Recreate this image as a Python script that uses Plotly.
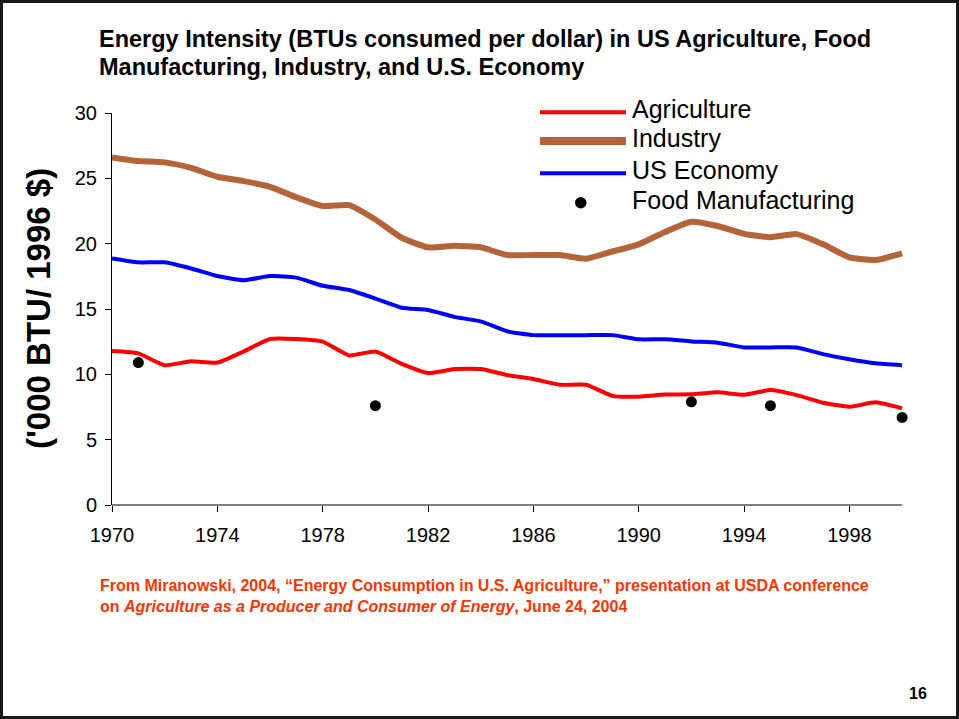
import plotly.graph_objects as go

# ---------------- data ----------------
years = list(range(1970, 2001))
agriculture = [11.78, 11.6, 10.7, 11.0, 10.9, 11.75, 12.7, 12.7, 12.5, 11.45,
               11.75, 10.8, 10.1, 10.4, 10.4, 9.95, 9.64, 9.2, 9.2, 8.35,
               8.29, 8.45, 8.47, 8.62, 8.44, 8.8, 8.41, 7.83, 7.52, 7.86, 7.4]
us_economy = [18.87, 18.57, 18.57, 18.1, 17.52, 17.2, 17.52, 17.4, 16.78, 16.45,
              15.8, 15.1, 14.92, 14.4, 14.05, 13.3, 13.0, 13.0, 13.0, 13.0,
              12.68, 12.68, 12.52, 12.42, 12.06, 12.06, 12.06, 11.55, 11.15, 10.84, 10.7]
industry = [26.6, 26.32, 26.22, 25.8, 25.12, 24.79, 24.35, 23.55, 22.88, 22.95,
            21.85, 20.45, 19.72, 19.84, 19.72, 19.13, 19.13, 19.13, 18.85, 19.4,
            19.95, 20.9, 21.68, 21.35, 20.75, 20.5, 20.73, 19.95, 18.95, 18.75, 19.26]
food_years = [1971, 1980, 1992, 1995, 2000]
food_manufacturing = [10.9, 7.6, 7.9, 7.6, 6.7]

x_ticks = [1970, 1974, 1978, 1982, 1986, 1990, 1994, 1998]
y_ticks = [0, 5, 10, 15, 20, 25, 30]

# ---------------- styling / layout helpers ----------------
W, H = 959, 719
L, R, T, B = 112, 49, 113, 214
PW, PH = W - L - R, H - T - B
FONT = "Arial, Liberation Sans, Helvetica, sans-serif"
RED, BLUE, BROWN = "#FF0000", "#0000FF", "#B5643A"


def px(xp):
    return (xp - L) / PW


def py(yp):
    return (H - B - yp) / PH


fig = go.Figure()
fig.add_trace(go.Scatter(x=years, y=agriculture, mode="lines", name="Agriculture",
                         line=dict(color=RED, width=4, shape="spline", smoothing=0.5)))
fig.add_trace(go.Scatter(x=years, y=industry, mode="lines", name="Industry",
                         line=dict(color=BROWN, width=6, shape="spline", smoothing=0.5)))
fig.add_trace(go.Scatter(x=years, y=us_economy, mode="lines", name="US Economy",
                         line=dict(color=BLUE, width=4, shape="spline", smoothing=0.5)))
fig.add_trace(go.Scatter(x=food_years, y=food_manufacturing, mode="markers",
                         name="Food Manufacturing",
                         marker=dict(color="black", size=11)))

shapes = []
annotations = []

# x axis line (ends at 2000)
shapes.append(dict(type="line", xref="x", yref="paper", x0=1970, x1=2000, y0=0, y1=0,
                   line=dict(color="black", width=1)))

# slide border
shapes.append(dict(type="rect", xref="paper", yref="paper",
                   x0=px(1.5), x1=px(957.5), y0=py(717.5), y1=py(1.5),
                   line=dict(color="#1a1a1a", width=3)))

# custom legend
legend_rows = [
    ("Agriculture", RED, 4, 112.3, 108.6),
    ("Industry", BROWN, 8, 141.0, 138.0),
    ("US Economy", BLUE, 4, 173.3, 170.3),
]
for name, col, wid, ly, ty in legend_rows:
    shapes.append(dict(type="line", xref="paper", yref="paper",
                       x0=px(540), x1=px(626), y0=py(ly), y1=py(ly),
                       line=dict(color=col, width=wid)))
    annotations.append(dict(text=name, xref="paper", yref="paper", x=px(630), y=py(ty),
                            xanchor="left", yanchor="middle", showarrow=False,
                            font=dict(family=FONT, size=25, color="black")))
shapes.append(dict(type="circle", xref="paper", yref="paper",
                   x0=px(575), x1=px(586.5), y0=py(208.5), y1=py(197),
                   fillcolor="black", line=dict(color="black", width=0)))
annotations.append(dict(text="Food Manufacturing", xref="paper", yref="paper",
                        x=px(630), y=py(199.6), xanchor="left", yanchor="middle",
                        showarrow=False, font=dict(family=FONT, size=25, color="black")))

# title
for txt, cy in [("Energy Intensity (BTUs consumed per dollar) in US Agriculture, Food", 38.7),
                ("Manufacturing, Industry, and U.S. Economy", 67.0)]:
    annotations.append(dict(text="<b>%s</b>" % txt, xref="paper", yref="paper",
                            x=px(97), y=py(cy), xanchor="left", yanchor="middle",
                            showarrow=False, font=dict(family=FONT, size=23.5, color="black")))

# y axis title
annotations.append(dict(text="<b>('000 BTU/ 1996 $)</b>", xref="paper", yref="paper",
                        x=px(38), y=py(309), xanchor="center", yanchor="middle",
                        textangle=-90, showarrow=False,
                        font=dict(family=FONT, size=33, color="black")))

# footnote
FOOT = "#FF3300"
annotations.append(dict(text="<b>From Miranowski, 2004, \u201cEnergy Consumption in U.S. Agriculture,\u201d presentation at USDA conference</b>",
                        xref="paper", yref="paper", x=px(98), y=py(585),
                        xanchor="left", yanchor="middle", showarrow=False,
                        font=dict(family=FONT, size=16, color=FOOT)))
annotations.append(dict(text="<b>on <i>Agriculture as a Producer and Consumer of Energy</i>, June 24, 2004</b>",
                        xref="paper", yref="paper", x=px(98), y=py(606.5),
                        xanchor="left", yanchor="middle", showarrow=False,
                        font=dict(family=FONT, size=16, color=FOOT)))

# page number
annotations.append(dict(text="<b>16</b>", xref="paper", yref="paper", x=px(918), y=py(693.5),
                        xanchor="center", yanchor="middle", showarrow=False,
                        font=dict(family=FONT, size=16, color="black")))

fig.update_layout(
    width=W, height=H, autosize=False,
    margin=dict(l=L, r=R, t=T, b=B, pad=0),
    paper_bgcolor="white", plot_bgcolor="white",
    showlegend=False,
    font=dict(family=FONT, size=20, color="black"),
    shapes=shapes, annotations=annotations,
    xaxis=dict(range=[1970, 2000.3], tickmode="array", tickvals=x_ticks,
               ticktext=[str(v) for v in x_ticks],
               ticks="outside", ticklen=6, tickwidth=1, tickcolor="black",
               ticklabelstandoff=6,
               showline=False, showgrid=False, zeroline=False,
               tickfont=dict(family=FONT, size=20, color="black")),
    yaxis=dict(range=[0, 30], tickmode="array", tickvals=y_ticks,
               ticks="outside", ticklen=6, tickwidth=1, tickcolor="black",
               ticklabelstandoff=4,
               showline=True, linecolor="black", linewidth=1,
               showgrid=False, zeroline=False,
               tickfont=dict(family=FONT, size=20, color="black")),
)

fig.write_html("out.html", config={"displayModeBar": False},
               post_script="document.body.style.margin='0px';")
